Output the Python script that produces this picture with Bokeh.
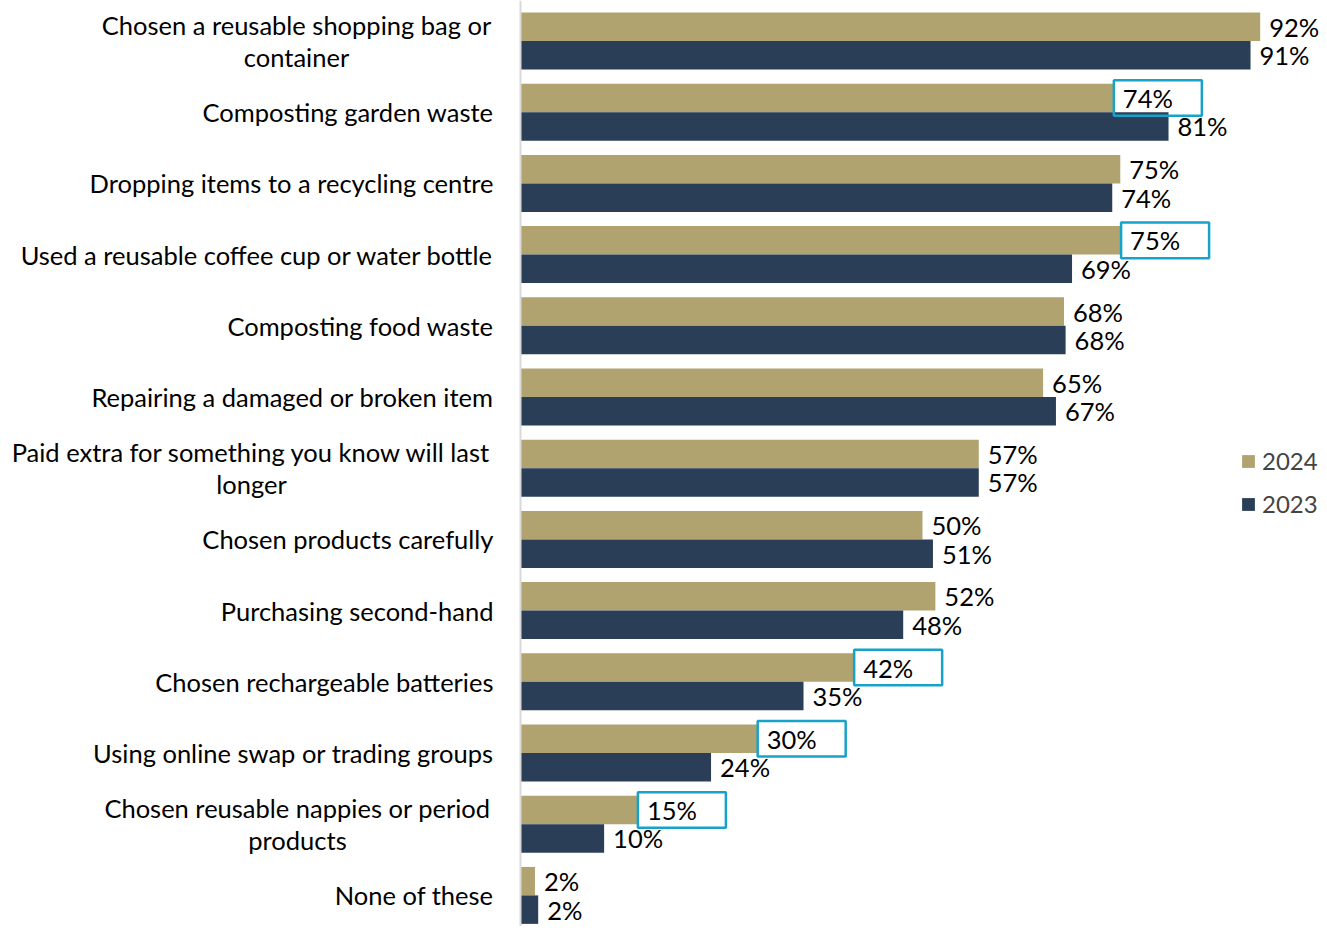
import numpy as np
from bokeh.plotting import figure
from bokeh.models import ColumnDataSource, Range1d, Span, Legend, LegendItem
from bokeh.core.properties import value
from bokeh.embed import file_html
from bokeh.resources import INLINE

# ---------------- data ----------------
categories = [
    "Chosen a reusable shopping bag or\ncontainer",
    "Composting garden waste",
    "Dropping items to a recycling centre",
    "Used a reusable coffee cup or water bottle",
    "Composting food waste",
    "Repairing a damaged or broken item",
    "Paid extra for something you know will last\nlonger",
    "Chosen products carefully",
    "Purchasing second-hand",
    "Chosen rechargeable batteries",
    "Using online swap or trading groups",
    "Chosen reusable nappies or period\nproducts",
    "None of these",
]
values_2024 = [92.0, 73.8, 74.6, 74.7, 67.6, 65.0, 57.0, 50.0, 51.6, 41.5, 29.5, 14.6, 1.8]
values_2023 = [90.8, 80.6, 73.6, 68.6, 67.8, 66.6, 57.0, 51.3, 47.6, 35.2, 23.7, 10.4, 2.2]
highlighted_2024 = [
    "Composting garden waste",
    "Used a reusable coffee cup or water bottle",
    "Chosen rechargeable batteries",
    "Using online swap or trading groups",
    "Chosen reusable nappies or period\nproducts",
]
series_names = ["2024", "2023"]

# ---------------- style / layout ----------------
W, H = 1319, 926
PX_PER_PCT = 8.04          # horizontal scale
AXIS_X = 520               # frame pixel of the 0% line
ROW_PX = 71.2              # pixel pitch of a category row
FIRST_ROW_PX = 40.5        # pixel centre of first row from the top
BAR_H = 0.40
GOLD = "#B0A36F"
NAVY = "#2A3F57"
CYAN = "#17A3C9"
FONT = "Lato"
FS = "25.5px"
LEG_FS = "24px"
BOX_W_PX = 88
BOX_H = 0.50
WRAP_CENTER_OFFSET = {0: -224, 6: -269, 11: -223}

n = len(categories)
ypos = np.array([-(i) for i in range(n)], dtype=float)

y_top = FIRST_ROW_PX / ROW_PX
x_range = Range1d(-AXIS_X / PX_PER_PCT, (W - AXIS_X) / PX_PER_PCT)
y_range = Range1d(y_top - H / ROW_PX, y_top)

p = figure(width=W, height=H, x_range=x_range, y_range=y_range,
           output_backend="svg", toolbar_location=None, min_border=0)
p.outline_line_color = None
p.xaxis.visible = False
p.yaxis.visible = False
p.xgrid.visible = False
p.ygrid.visible = False
p.background_fill_color = "white"
p.border_fill_color = "white"

src = ColumnDataSource(dict(
    y24=ypos + BAR_H / 2, y23=ypos - BAR_H / 2,
    v24=values_2024, v23=values_2023,
    l24=[f"{round(v):d}%" for v in values_2024],
    l23=[f"{round(v):d}%" for v in values_2023],
))

r24 = p.hbar(y="y24", left=0, right="v24", height=BAR_H, source=src,
             fill_color=GOLD, line_color=None)
r23 = p.hbar(y="y23", left=0, right="v23", height=BAR_H, source=src,
             fill_color=NAVY, line_color=None)

p.add_layout(Span(location=0, dimension="height", line_color="#D9D9D9", line_width=2))

# highlight boxes
hi_idx = [categories.index(c) for c in highlighted_2024]
box_src = ColumnDataSource(dict(
    left=[values_2024[i] for i in hi_idx],
    right=[values_2024[i] + BOX_W_PX / PX_PER_PCT for i in hi_idx],
    bottom=[ypos[i] + BAR_H / 2 - BOX_H / 2 for i in hi_idx],
    top=[ypos[i] + BAR_H / 2 + BOX_H / 2 for i in hi_idx],
))
p.quad(left="left", right="right", bottom="bottom", top="top", source=box_src,
       fill_color="white", fill_alpha=0.0, line_color=CYAN, line_width=2.5)

# value labels
for col_y, col_v, col_l in (("y24", "v24", "l24"), ("y23", "v23", "l23")):
    p.text(x=col_v, y=col_y, text=col_l, source=src, x_offset=9,
           text_align="left", text_baseline="middle",
           text_font=value(FONT), text_font_size=FS, text_color="#000000")

# category labels
single = [i for i in range(n) if "\n" not in categories[i]]
wrapped = [i for i in range(n) if "\n" in categories[i]]
p.text(x=[0] * len(single), y=[ypos[i] for i in single],
       text=[categories[i] for i in single], x_offset=-27,
       text_align="right", text_baseline="middle",
       text_font=value(FONT), text_font_size=FS, text_color="#000000")
for i in wrapped:
    p.text(x=[0], y=[ypos[i]], text=[categories[i]],
           x_offset=WRAP_CENTER_OFFSET[i],
           text_align="center", text_baseline="middle", text_line_height=1.08,
           text_font=value(FONT), text_font_size=FS, text_color="#000000")

legend = Legend(items=[LegendItem(label=series_names[0], renderers=[r24]),
                       LegendItem(label=series_names[1], renderers=[r23])],
                location=(1240, 408), orientation="vertical",
                glyph_width=16, glyph_height=16, label_standoff=6,
                spacing=14, padding=0, margin=0,
                border_line_color=None, background_fill_alpha=0,
                label_text_font=FONT, label_text_font_size=LEG_FS)
p.add_layout(legend)

open("out.html", "w").write(file_html(p, INLINE))
